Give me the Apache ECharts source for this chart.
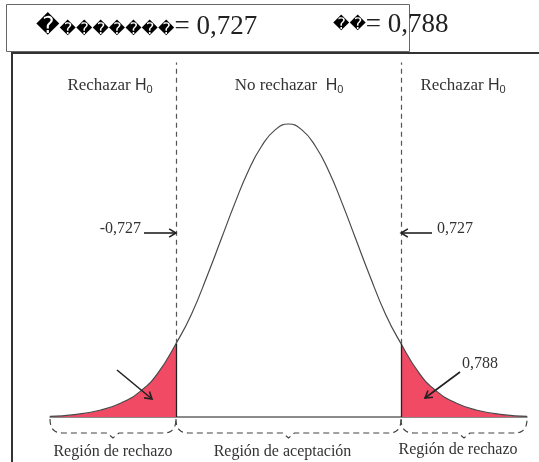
<!DOCTYPE html>
<html>
<head>
<meta charset="utf-8">
<script src="https://cdn.jsdelivr.net/npm/echarts@6/dist/echarts.min.js"></script>
<style>
  html, body { margin: 0; padding: 0; background: #fff; }
  #main { width: 539px; height: 462px; }
</style>
</head>
<body>
<div id="main"></div>
<script>
// curve (z units, relative height)
const curveZ = [-3.56, -3.2, -2.8, -2.5, -2.2, -1.95, -1.68, -1.45, -1.2, -1.0, -0.8, -0.6, -0.4, -0.2, 0,
                0.2, 0.4, 0.6, 0.8, 1.0, 1.2, 1.45, 1.68, 1.95, 2.2, 2.5, 2.8, 3.2, 3.56];
const curveH = [0.002, 0.008, 0.024, 0.048, 0.09, 0.15, 0.25, 0.35, 0.49, 0.61, 0.73, 0.84, 0.925, 0.98, 1,
                0.98, 0.925, 0.84, 0.73, 0.61, 0.49, 0.35, 0.25, 0.15, 0.09, 0.048, 0.024, 0.008, 0.002];
const critical = [-1.68, 1.68];
const critHeight = 0.25;
const critLabels = ['-0,727', '0,727'];
const tailLabel = '0,788';
const regionLabels = ['Región de rechazo', 'Región de aceptación', 'Región de rechazo'];
const topLabels = ['Rechazar ', 'No rechazar  ', 'Rechazar '];
const headerText = ['= 0,727', '= 0,788'];

const RED = '#f04a64';
const serif = "'Liberation Serif', 'Times New Roman', serif";
const sans = "'Liberation Sans', Arial, sans-serif";

const points = curveZ.map((z, i) => [z, curveH[i]]);

let myChart = echarts.init(document.getElementById('main'));

let option = {
    animation: false,
    grid: { left: 50, right: 12, top: 62.5, bottom: 45 },
    xAxis: {
        type: 'value', min: -3.56, max: 3.56,
        axisLine: { show: true, onZero: true, lineStyle: { color: '#666', width: 1.5 } },
        axisTick: { show: false }, axisLabel: { show: false }, splitLine: { show: false }
    },
    yAxis: {
        type: 'value', min: 0, max: 1.21, show: false
    },
    visualMap: {
        show: false, type: 'piecewise', dimension: 0, seriesIndex: 1,
        pieces: [
            { lt: critical[0], color: RED },
            { gte: critical[0], lte: critical[1], color: 'rgba(255,255,255,0)' },
            { gt: critical[1], color: RED }
        ]
    },
    series: [
        {
            type: 'line', data: points, smooth: 0.5, symbol: 'none', z: 4,
            lineStyle: { color: '#4a4a4a', width: 1.2 },
            markLine: {
                silent: true, symbol: 'none', label: { show: false },
                data: critical.map(c => [
                    { coord: [c, 0], lineStyle: { color: '#222', width: 1.3, type: 'solid' } },
                    { coord: [c, critHeight] }
                ]).concat(critical.map(c => [
                    { coord: [c, critHeight], lineStyle: { color: '#555', width: 1.2, type: [5, 4] } },
                    { coord: [c, 1.21] }
                ]))
            }
        },
        {
            type: 'line', data: points, smooth: 0.5, symbol: 'none', z: 2,
            lineStyle: { width: 0 },
            areaStyle: { opacity: 1 }
        }
    ]
};
myChart.setOption(option, true);

function px(z, h) { return myChart.convertToPixel({ gridIndex: 0 }, [z, h]); }

function arrow(x1, y1, x2, y2) {
    const a = Math.atan2(y2 - y1, x2 - x1), L = 8, s = 0.55;
    return [
        { type: 'line', shape: { x1, y1, x2, y2 }, style: { stroke: '#222', lineWidth: 1.6 }, z: 10 },
        { type: 'polyline', z: 10,
          shape: { points: [[x2 - L * Math.cos(a - s), y2 - L * Math.sin(a - s)], [x2, y2],
                            [x2 - L * Math.cos(a + s), y2 - L * Math.sin(a + s)]] },
          style: { stroke: '#222', lineWidth: 1.6, fill: null } }
    ];
}

// quadratic corner helper for the dashed braces
function quad(p0, p1, p2, n) {
    const out = [];
    for (let i = 0; i <= n; i++) {
        const t = i / n, u = 1 - t;
        out.push([u * u * p0[0] + 2 * u * t * p1[0] + t * t * p2[0],
                  u * u * p0[1] + 2 * u * t * p1[1] + t * t * p2[1]]);
    }
    return out;
}

function brace(x1, x2, y) {
    const mid = (x1 + x2) / 2, d = 14;
    const pts = quad([x1, y], [x1, y + d], [x1 + 12, y + d], 8)
        .concat([[mid - 6, y + d], [mid, y + d + 5], [mid + 6, y + d]])
        .concat(quad([x2 - 12, y + d], [x2, y + d], [x2, y], 8));
    return {
        type: 'polyline', z: 10,
        shape: { points: pts },
        style: { stroke: '#444', lineWidth: 1.2, fill: null, lineDash: [6, 4] }
    };
}

function topLabel(txt, cx) {
    return {
        type: 'text', x: cx, y: 86, z: 10,
        style: {
            text: `{t|${txt}}{h|H}{s|0}`, align: 'center', verticalAlign: 'middle',
            rich: {
                t: { fontFamily: serif, fontSize: 17, fill: '#333' },
                h: { fontFamily: sans, fontSize: 16, fill: '#333' },
                s: { fontFamily: sans, fontSize: 11, fill: '#333', padding: [8, 0, 0, 0] }
            }
        }
    };
}

const base = px(0, 0)[1];
const left = px(-3.56, 0)[0], right = px(3.56, 0)[0];
const cl = px(critical[0], 0)[0], cr = px(critical[1], 0)[0];

let g = [
    { type: 'rect', z: 0, shape: { x: 12, y: 53, width: 600, height: 500 },
      style: { fill: null, stroke: '#333', lineWidth: 2 } },
    { type: 'rect', z: 11, shape: { x: 6.5, y: 4.5, width: 403, height: 47 },
      style: { fill: '#fff', stroke: '#666', lineWidth: 1 } },
    { type: 'text', x: 36, y: 27, z: 12,
      style: {
          text: '{big|\uFFFD}{sm|\uFFFD\uFFFD\uFFFD\uFFFD\uFFFD\uFFFD\uFFFD}{num|' + headerText[0] + '}',
          verticalAlign: 'middle',
          rich: {
              big: { fontFamily: "'DejaVu Sans'", fontSize: 23, fill: '#000' },
              sm: { fontFamily: "'DejaVu Sans'", fontSize: 16, fill: '#000', padding: [6, 0, 0, 0] },
              num: { fontFamily: serif, fontSize: 27, fill: '#222' }
          }
      } },
    { type: 'text', x: 333, y: 25, z: 12,
      style: {
          text: '{big|\uFFFD\uFFFD}{num|' + headerText[1] + '}',
          verticalAlign: 'middle',
          rich: {
              big: { fontFamily: "'DejaVu Sans'", fontSize: 16, fill: '#000' },
              num: { fontFamily: serif, fontSize: 27, fill: '#222' }
          }
      } },
    topLabel(topLabels[0], 110),
    topLabel(topLabels[1], 289),
    topLabel(topLabels[2], 463),
    { type: 'text', x: 141, y: 229, z: 10,
      style: { text: critLabels[0], align: 'right', verticalAlign: 'middle', font: `16px ${serif}`, fill: '#333' } },
    { type: 'text', x: 437, y: 229, z: 10,
      style: { text: critLabels[1], align: 'left', verticalAlign: 'middle', font: `16px ${serif}`, fill: '#333' } },
    { type: 'text', x: 462, y: 364, z: 10,
      style: { text: tailLabel, align: 'left', verticalAlign: 'middle', font: `16px ${serif}`, fill: '#333' } },
    brace(left, cl, base + 2),
    brace(cl, cr, base + 2),
    brace(cr, right, base + 2),
    { type: 'text', x: (left + cl) / 2, y: 452, z: 10,
      style: { text: regionLabels[0], align: 'center', verticalAlign: 'middle', font: `16px ${serif}`, fill: '#333' } },
    { type: 'text', x: (cl + cr) / 2 - 6, y: 452, z: 10,
      style: { text: regionLabels[1], align: 'center', verticalAlign: 'middle', font: `16px ${serif}`, fill: '#333' } },
    { type: 'text', x: (cr + right) / 2 - 6, y: 450, z: 10,
      style: { text: regionLabels[2], align: 'center', verticalAlign: 'middle', font: `16px ${serif}`, fill: '#333' } }
]
.concat(arrow(144, 233, cl, 233))
.concat(arrow(432, 233, cr, 233))
.concat(arrow(460, 372, 425, 398))
.concat(arrow(117, 370, 152, 399));

myChart.setOption({ graphic: g });

window.addEventListener('resize', function () {
    myChart.resize();
});
</script>
</body>
</html>
